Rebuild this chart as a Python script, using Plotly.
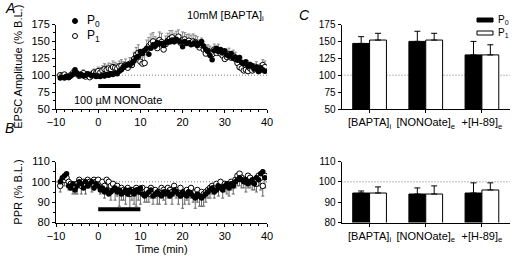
import numpy as np
import plotly.graph_objects as go

# ---------------- data ----------------
TIME = list(np.arange(-9, 40, 0.5))  # sampling times (min)

A_P0 = [96, 97, 96, 98, 97, 99, 101, 108, 103, 100,
        101, 99, 100, 102, 101, 99, 100, 98, 99, 98,
        100, 99, 101, 100, 102, 101, 103, 102, 106, 108,
        112, 114, 116, 115, 118, 121, 126, 128, 135, 132,
        137, 140, 131, 140, 145, 143, 148, 146, 147, 144,
        148, 150, 149, 152, 150, 153, 151, 149, 142, 150,
        147, 148, 145, 146, 148, 144, 147, 150, 143, 138,
        135, 129, 123, 136, 140, 135, 138, 133, 136, 130,
        128, 132, 125, 127, 122, 126, 119, 117, 120, 113,
        116, 114, 110, 112, 106, 111, 108, 106]
A_P1 = [100, 99, 101, 98, 97, 100, 103, 104, 102, 99,
        101, 103, 98, 100, 97, 101, 104, 103, 106, 104,
        107, 109, 108, 110, 109, 112, 111, 110, 113, 114,
        112, 115, 111, 117, 115, 124, 130, 133, 120, 117,
        118, 138, 143, 147, 150, 145, 140, 152, 149, 138,
        146, 151, 154, 156, 150, 154, 157, 148, 152, 153,
        149, 151, 147, 150, 149, 145, 141, 145, 138, 132,
        136, 133, 131, 138, 133, 136, 132, 129, 124, 127,
        131, 126, 128, 124, 118, 112, 110, 107, 108, 106,
        110, 107, 109, 111, 106, 108, 115, 112]
A_ERR = [3, 4, 3, 4, 3, 4, 5, 4, 5, 4,
         4, 5, 4, 5, 4, 5, 5, 6, 6, 7,
         7, 8, 7, 8, 8, 9, 8, 7, 8, 9,
         8, 9, 8, 9, 10, 10, 11, 12, 11, 10,
         12, 14, 13, 14, 13, 12, 14, 12, 13, 14,
         12, 11, 12, 10, 12, 11, 10, 11, 12, 10,
         11, 10, 12, 11, 10, 12, 11, 10, 9, 10,
         9, 10, 9, 8, 9, 10, 9, 10, 9, 10,
         9, 8, 9, 10, 9, 8, 9, 10, 9, 8,
         9, 10, 8, 9, 10, 9, 8, 9]

B_P0 = [100, 102, 103, 104, 98, 97, 99, 96, 98, 100,
        99, 97, 100, 98, 99, 100, 97, 99, 98, 96,
        97, 95, 96, 94, 95, 96, 97, 95, 96, 94,
        95, 96, 94, 96, 95, 94, 96, 95, 97, 94,
        93, 94, 95, 96, 93, 94, 95, 94, 93, 95,
        94, 95, 93, 94, 96, 95, 94, 93, 95, 94,
        93, 95, 94, 93, 92, 94, 93, 92, 93, 94,
        95, 96, 97, 95, 96, 98, 97, 96, 98, 99,
        97, 99, 98, 100, 101, 102, 101, 100, 101, 99,
        100, 101, 99, 102, 101, 104, 105, 102]
B_P1 = [98, 101, 101, 102, 100, 99, 98, 97, 99, 101,
        98, 100, 99, 101, 100, 99, 101, 100, 101, 99,
        100, 98, 101, 100, 98, 99, 97, 98, 96, 97,
        96, 95, 97, 94, 96, 95, 97, 96, 95, 97,
        95, 96, 94, 97, 95, 96, 94, 95, 97, 96,
        95, 97, 96, 95, 98, 96, 95, 97, 94, 95,
        96, 95, 97, 94, 95, 96, 93, 95, 94, 95,
        96, 97, 98, 97, 99, 98, 100, 97, 99, 98,
        98, 100, 99, 101, 103, 104, 102, 101, 100, 103,
        102, 100, 101, 99, 103, 102, 98, 103]
B_ERR = [3, 2, 3, 2, 4, 3, 4, 3, 5, 3,
         4, 3, 5, 4, 3, 4, 5, 3, 4, 5,
         5, 6, 4, 5, 7, 4, 6, 5, 8, 6,
         5, 6, 4, 7, 5, 6, 9, 5, 6, 4,
         5, 6, 4, 5, 6, 4, 5, 6, 4, 5,
         6, 5, 4, 6, 5, 4, 6, 5, 7, 6,
         5, 6, 5, 4, 8, 6, 5, 7, 6, 5,
         4, 5, 4, 5, 4, 5, 4, 5, 4, 4,
         5, 4, 5, 4, 5, 6, 5, 4, 5, 6,
         5, 4, 5, 4, 5, 6, 5, 6]

NONO_PERIOD = [0, 10]
NONO_LEVEL_A = 84
NONO_LEVEL_B = 86.5

CATS = ["[BAPTA]<sub>i</sub>", "[NONOate]<sub>e</sub>", "+[H-89]<sub>e</sub>"]
C_AMP_P0 = [147, 150, 130]
C_AMP_P0_ERR = [10, 15, 20]
C_AMP_P1 = [152, 152, 130]
C_AMP_P1_ERR = [10, 10, 15]
C_PPR_P0 = [94.5, 94, 94.5]
C_PPR_P0_ERR = [1, 3, 5]
C_PPR_P1 = [94.5, 94, 96]
C_PPR_P1_ERR = [3, 4, 3.5]

# ---------------- figure ----------------
W, H = 514, 261
FONT = "Liberation Sans, Arial, sans-serif"


def px(x):
    return x / W


def py(y):
    return 1 - y / H


fig = go.Figure()
zeros = [0] * len(TIME)

# Panel A
fig.add_trace(go.Scatter(x=TIME, y=A_P1, mode="markers", xaxis="x", yaxis="y",
                         marker=dict(symbol="circle", size=5.5, color="white",
                                     line=dict(color="black", width=1)),
                         error_y=dict(type="data", symmetric=False, array=A_ERR,
                                      arrayminus=zeros, color="#888", thickness=1, width=1.5),
                         showlegend=False))
fig.add_trace(go.Scatter(x=TIME, y=A_P0, mode="markers", xaxis="x", yaxis="y",
                         marker=dict(symbol="circle", size=5.5, color="black"),
                         showlegend=False))
fig.add_trace(go.Scatter(x=NONO_PERIOD, y=[NONO_LEVEL_A] * 2, mode="lines",
                         xaxis="x", yaxis="y", line=dict(color="black", width=4),
                         showlegend=False))

# Panel B
fig.add_trace(go.Scatter(x=TIME, y=B_P1, mode="markers", xaxis="x2", yaxis="y2",
                         marker=dict(symbol="circle", size=5.5, color="white",
                                     line=dict(color="black", width=1)),
                         error_y=dict(type="data", symmetric=False, array=zeros,
                                      arrayminus=B_ERR, color="#666", thickness=1, width=1.5),
                         showlegend=False))
fig.add_trace(go.Scatter(x=TIME, y=B_P0, mode="markers", xaxis="x2", yaxis="y2",
                         marker=dict(symbol="circle", size=5.5, color="black"),
                         showlegend=False))
fig.add_trace(go.Scatter(x=NONO_PERIOD, y=[NONO_LEVEL_B] * 2, mode="lines",
                         xaxis="x2", yaxis="y2", line=dict(color="black", width=4),
                         showlegend=False))

# Panel C bars
for vals, errs, color, ax, ay in [
    (C_AMP_P0, C_AMP_P0_ERR, "black", "x3", "y3"),
    (C_AMP_P1, C_AMP_P1_ERR, "white", "x3", "y3"),
    (C_PPR_P0, C_PPR_P0_ERR, "black", "x4", "y4"),
    (C_PPR_P1, C_PPR_P1_ERR, "white", "x4", "y4"),
]:
    fig.add_trace(go.Bar(x=CATS, y=vals, xaxis=ax, yaxis=ay,
                         marker=dict(color=color, line=dict(color="black", width=1)),
                         error_y=dict(type="data", symmetric=False, array=errs,
                                      arrayminus=[0] * len(errs), color="black",
                                      thickness=1, width=3),
                         showlegend=False))

AB_X = [px(56), px(267)]
C_X = [px(341.5), px(510)]
TOP_Y = [py(109), py(24.5)]
BOT_Y = [py(222.5), py(161.5)]

axis_common = dict(showline=True, linecolor="black", linewidth=1, ticks="outside",
                   ticklen=3, tickcolor="black", showgrid=False, zeroline=False,
                   automargin=False,
                   tickfont=dict(family=FONT, size=11, color="black"))

fig.update_layout(
    width=W, height=H, margin=dict(l=0, r=0, t=0, b=0, autoexpand=False),
    paper_bgcolor="white", plot_bgcolor="white",
    font=dict(family=FONT, color="black"),
    barmode="group", bargap=0.4, bargroupgap=0,
    xaxis=dict(domain=AB_X, anchor="y", range=[-10, 40], tickvals=[-10, 0, 10, 20, 30, 40],
               minor=dict(ticks="outside", dtick=2, ticklen=2, tickcolor="black"), **axis_common),
    yaxis=dict(domain=TOP_Y, anchor="x", range=[50, 175], tickvals=[50, 75, 100, 125, 150, 175],
               minor=dict(ticks="outside", dtick=12.5, ticklen=2, tickcolor="black"),
               title=dict(text="EPSC Amplitude (% B.L.)", font=dict(size=11), standoff=6),
               **axis_common),
    xaxis2=dict(domain=AB_X, anchor="y2", range=[-10, 40], tickvals=[-10, 0, 10, 20, 30, 40],
                minor=dict(ticks="outside", dtick=2, ticklen=2, tickcolor="black"),
                title=dict(text="Time (min)", font=dict(size=11), standoff=4), **axis_common),
    yaxis2=dict(domain=BOT_Y, anchor="x2", range=[80, 110], tickvals=[80, 90, 100, 110],
                minor=dict(ticks="outside", dtick=5, ticklen=2, tickcolor="black"),
                title=dict(text="PPR (% B.L.)", font=dict(size=11), standoff=6),
                **axis_common),
    xaxis3=dict(domain=C_X, anchor="y3", **axis_common),
    yaxis3=dict(domain=TOP_Y, anchor="x3", range=[50, 175], tickvals=[50, 75, 100, 125, 150, 175],
                **axis_common),
    xaxis4=dict(domain=C_X, anchor="y4", **axis_common),
    yaxis4=dict(domain=BOT_Y, anchor="x4", range=[80, 110], tickvals=[80, 90, 100, 110],
                **axis_common),
)
fig.update_yaxes(tickfont=dict(size=10), selector=dict(anchor="x3"))
fig.update_yaxes(tickfont=dict(size=10), selector=dict(anchor="x4"))

dot = dict(color="#777", width=1, dash="1px,2px")
fig.add_shape(type="line", xref="x domain", yref="y", x0=0, x1=1, y0=100, y1=100, line=dot, layer="below")
fig.add_shape(type="line", xref="x2 domain", yref="y2", x0=0, x1=1, y0=100, y1=100, line=dot, layer="below")
fig.add_shape(type="line", xref="x3 domain", yref="y3", x0=0, x1=1, y0=100, y1=100, line=dot, layer="below")
fig.add_shape(type="line", xref="x4 domain", yref="y4", x0=0, x1=1, y0=100, y1=100, line=dot, layer="below")

# Legend A (manual)
fig.add_shape(type="circle", xref="paper", yref="paper", x0=px(72.5), x1=px(77.5),
              y0=py(23.5), y1=py(18.5), fillcolor="black", line=dict(color="black", width=1))
fig.add_shape(type="circle", xref="paper", yref="paper", x0=px(72.5), x1=px(77.5),
              y0=py(38.5), y1=py(33.5), fillcolor="white", line=dict(color="black", width=1))

# Legend C (manual)
fig.add_shape(type="rect", xref="paper", yref="paper", x0=px(477), x1=px(493),
              y0=py(22), y1=py(18), fillcolor="black", line=dict(color="black", width=1))
fig.add_shape(type="rect", xref="paper", yref="paper", x0=px(477), x1=px(493),
              y0=py(35), y1=py(31), fillcolor="white", line=dict(color="black", width=1))

ann = [
    dict(text="<i>A</i>", x=px(3), y=py(8), size=14, xanchor="left"),
    dict(text="<i>B</i>", x=px(3), y=py(128), size=14, xanchor="left"),
    dict(text="<i>C</i>", x=px(297), y=py(15), size=14, xanchor="left"),
    dict(text="P<sub>0</sub>", x=px(85), y=py(21), size=12, xanchor="left"),
    dict(text="P<sub>1</sub>", x=px(85), y=py(36), size=12, xanchor="left"),
    dict(text="10mM [BAPTA]<sub>i</sub>", x=px(266), y=py(16), size=11, xanchor="right"),
    dict(text="100 µM NONOate", x=px(118), y=py(100), size=11, xanchor="center"),
    dict(text="P<sub>0</sub>", x=px(496), y=py(20), size=10, xanchor="left"),
    dict(text="P<sub>1</sub>", x=px(496), y=py(33), size=10, xanchor="left"),
]
for a in ann:
    fig.add_annotation(text=a["text"], x=a["x"], y=a["y"], xref="paper", yref="paper",
                       xanchor=a["xanchor"], yanchor="middle", showarrow=False,
                       font=dict(family=FONT, size=a["size"], color="black"))

fig.write_html("out.html", config={"displayModeBar": False},
               post_script="document.body.style.margin='0';")
